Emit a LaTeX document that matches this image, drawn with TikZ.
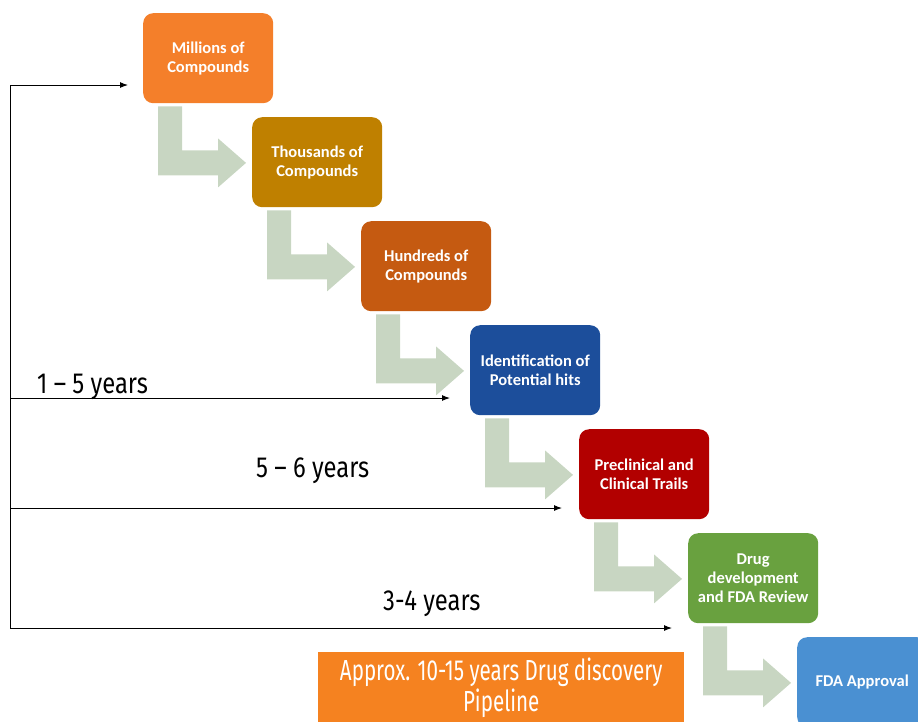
\documentclass[tikz,border=0pt]{standalone}
\usepackage{fontspec}
\setmainfont{Carlito}
\newfontfamily\condfont[FakeStretch=0.82]{Fira Sans}
\newfontfamily\narrowfont[FakeStretch=0.71]{Fira Sans}
\usetikzlibrary{arrows.meta}
\definecolor{cA}{HTML}{F47F2A}
\definecolor{cB}{HTML}{BF8000}
\definecolor{cC}{HTML}{C55A11}
\definecolor{cD}{HTML}{1C4E9B}
\definecolor{cE}{HTML}{B20000}
\definecolor{cF}{HTML}{69A13F}
\definecolor{cG}{HTML}{4A90D2}
\definecolor{sage}{HTML}{C8D6C2}
\definecolor{bottomorange}{HTML}{F58220}
\begin{document}
\begin{tikzpicture}[x=1pt,y=-1pt,
  stepbox/.style={rounded corners=10pt, minimum width=130pt, minimum height=90pt,
    inner sep=2pt, text=white, align=center, anchor=north west,
    font=\bfseries\fontsize{16.5}{19}\selectfont},
  greenarrow/.style={fill=sage},
  tl/.style={line width=1pt, draw=black, -{Latex[length=8pt,width=6pt]}},
  yearlabel/.style={font=\condfont\fontsize{29}{32}\selectfont, inner sep=0pt, anchor=west},
]
\useasboundingbox (0,0) rectangle (918,721);
\clip (0,0) rectangle (918,721);

\node[stepbox, fill=cA] (b1) at (143,13) {Millions of\\Compounds};
\node[stepbox, fill=cB] (b2) at (252,117) {Thousands of\\Compounds};
\node[stepbox, fill=cC] (b3) at (361,221) {Hundreds of\\Compounds};
\node[stepbox, fill=cD] (b4) at (470,325) {Identification of\\Potential hits};
\node[stepbox, fill=cE] (b5) at (579,429) {Preclinical and\\Clinical Trails};
\node[stepbox, fill=cF] (b6) at (688,533) {Drug\\development\\and FDA Review};
\node[stepbox, fill=cG] (b7) at (797,637) {FDA Approval};

\foreach \i in {1,...,6} {
  \fill[greenarrow, shift={(b\i.south west)}]
    (15,3) -- (39,3) -- (39,47) -- (75,47) -- (75,35) -- (103,59.5)
    -- (75,84) -- (75,72) -- (15,72) -- cycle;
}

\coordinate (vtop) at (10,85);
\coordinate (vbot) at (10,628);
\coordinate (h1) at (10,398);
\coordinate (h2) at (10,508);
\draw[tl] (vbot) -- (vtop) -- ([xshift=-15pt]b1.west |- vtop);
\draw[tl] (h1) -- ([xshift=-20pt]b4.west |- h1);
\draw[tl] (h2) -- ([xshift=-17pt]b5.west |- h2);
\draw[tl] (vbot) -- ([xshift=-16pt]b6.west |- vbot);

\node[yearlabel] (l1) at (37,387) {1 – 5 years};
\node[yearlabel] (l2) at (256,471) {5 – 6 years};
\node[yearlabel] (l3) at (383,604) {3-4 years};

\node[fill=bottomorange, minimum width=366pt, minimum height=72pt, anchor=north west,
  inner sep=0pt, text=white, align=center,
  font=\narrowfont\fontsize{29}{31}\selectfont] (lbl) at (318,652)
  {Approx. 10-15 years Drug discovery\\Pipeline};
\end{tikzpicture}
\end{document}
